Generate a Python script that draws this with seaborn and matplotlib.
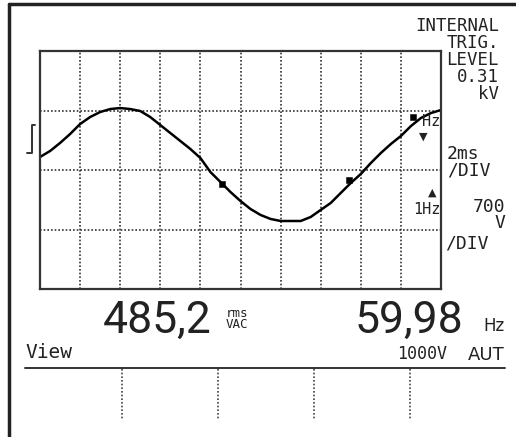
import numpy as np
import matplotlib.pyplot as plt
from matplotlib.lines import Line2D
import seaborn as sns

# trace: 2 ms/div, 700 V/div
time_ms = [0.0, 0.5, 1.0, 1.5, 2.0, 2.5, 3.0, 3.5, 4.0, 4.5,
           5.0, 5.5, 6.0, 6.5, 7.0, 7.5, 8.0, 8.5, 9.0, 9.5,
           10.0, 10.5, 11.0, 11.5, 12.0, 12.5, 13.0, 13.5, 14.0, 14.5,
           15.0, 15.5, 16.0, 16.5, 17.0, 17.5, 18.0, 18.5, 19.0, 19.5, 20.0]
volts = [153, 223, 318, 423, 541, 623, 682, 717, 729, 717,
         694, 623, 529, 435, 341, 247, 141, -24, -141, -259,
         -365, -459, -529, -576, -600, -600, -600, -553, -470, -388,
         -270, -153, -47, 82, 200, 306, 400, 517, 612, 670, 706]
cursor_ms = [9.1, 15.4, 18.6]
cursor_v = [-165, -118, 623]

W, H = 516, 437

def fx(px):
    return px / W

def fy(py):
    return 1 - py / H

sns.set_theme(style='white')
plt.rcParams['font.family'] = ['DejaVu Sans Mono', 'DejaVu Sans']

fig = plt.figure(figsize=(W / 100, H / 100), dpi=100)
fig.patch.set_facecolor('white')

ax = fig.add_axes([fx(40), fy(289), fx(441) - fx(40), fy(51) - fy(289)])
sns.lineplot(x=time_ms, y=volts, color='black', lw=1.8, ax=ax)
sns.scatterplot(x=cursor_ms, y=cursor_v, color='black', marker='s', s=22,
                edgecolor='black', ax=ax, zorder=5)
ax.set_xlim(0, 20)
ax.set_ylim(-1400, 1400)
ax.set_xticks(np.arange(0, 21, 2))
ax.set_yticks(np.arange(-1400, 1401, 700))
ax.set_xticklabels([])
ax.set_yticklabels([])
ax.tick_params(length=0)
ax.grid(True, ls=(0, (1, 1.2)), color='#333333', lw=1.2)
for s in ax.spines.values():
    s.set_color('#333333')
    s.set_linewidth(1.6)

# outer bezel
fig.add_artist(Line2D([fx(9), fx(516)], [fy(4), fy(4)], color='#222222', lw=2.5))
fig.add_artist(Line2D([fx(9), fx(9)], [fy(4), fy(437)], color='#222222', lw=2.5))

# trigger symbol
fig.add_artist(Line2D([fx(35), fx(32), fx(32), fx(27)],
                      [fy(125), fy(125), fy(153), fy(153)], color='#333333', lw=1.4))

# softkey bar
fig.add_artist(Line2D([fx(25), fx(505)], [fy(368), fy(368)], color='#333333', lw=1.4))
for kx in [122, 218, 314, 410]:
    fig.add_artist(Line2D([fx(kx), fx(kx)], [fy(369), fy(420)], color='#444444',
                          lw=1.2, ls=(0, (1, 1.2))))

def txt(px, py, s, size=13, ha='right', va='center', **kw):
    fig.text(fx(px), fy(py), s, fontsize=size, ha=ha, va=va, color='#222222',
             multialignment=ha, **kw)

txt(499, 60, 'INTERNAL\nTRIG.\nLEVEL\n0.31\nkV', size=12.5, linespacing=0.92)
txt(447, 162, '2ms\n/DIV', ha='left', linespacing=0.92)
txt(505, 215, '700\nV', linespacing=0.92)
txt(445, 243, '/DIV', ha='left')

txt(440, 121, 'Hz', size=11)
txt(423, 137, '▼', size=8, ha='center', family=['DejaVu Sans'])
txt(432, 193, '▲', size=8, ha='center', family=['DejaVu Sans'])
txt(441, 209, '1Hz', size=11)

txt(212, 321, '485,2', size=32, family=['Roboto', 'DejaVu Sans'])
txt(226, 319, 'rms\nVAC', size=9, ha='left', linespacing=0.85)
txt(463, 321, '59,98', size=32, family=['Roboto', 'DejaVu Sans'])
txt(505, 326, 'Hz', size=12, family=['DejaVu Sans'])

txt(25, 353, 'View', size=14, ha='left')
txt(447, 354, '1000V', size=12)
txt(505, 355, 'AUT', size=13, family=['DejaVu Sans'])

fig.savefig('out.png', dpi=100, facecolor='white')
